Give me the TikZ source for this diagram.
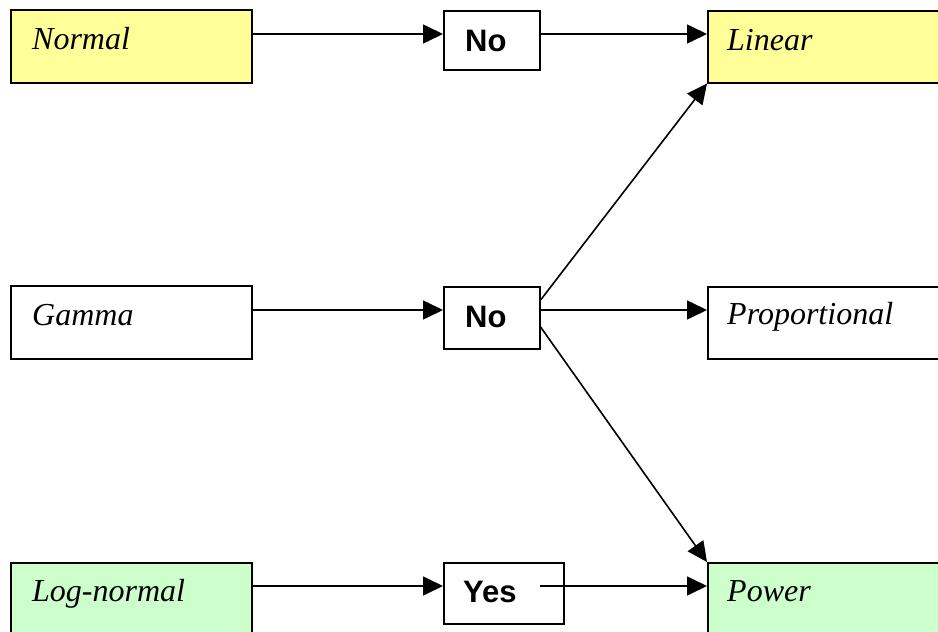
\documentclass[tikz,border=0pt]{standalone}
\usepackage{fontspec}
\setmainfont{Liberation Serif}
\newfontfamily\boldsans{Liberation Sans}
\usetikzlibrary{arrows.meta}
\definecolor{lyellow}{HTML}{FFFF99}
\definecolor{lgreen}{HTML}{CCFFCC}
\begin{document}
\begin{tikzpicture}[x=1pt,y=-1pt,
  box/.style={draw=black, line width=1.6pt, rectangle, inner sep=0pt, anchor=north west},
  distbox/.style={box, minimum width=241pt, minimum height=73pt},
  ansbox/.style={box, minimum height=60pt},
  modelbox/.style={box, minimum width=260pt, minimum height=72pt},
  dlabel/.style={anchor=base west, inner sep=0pt, font=\fontsize{32}{38}\selectfont\itshape},
  alabel/.style={anchor=base west, inner sep=0pt, font=\fontsize{31}{36}\selectfont\boldsans\bfseries},
  arr/.style={line width=1.6pt, -{Triangle[length=20pt,width=19pt]}}
]
\useasboundingbox (0,0) rectangle (938,632);
\clip (0,0) rectangle (938,632);
% distributions
\node[distbox, fill=lyellow] (normal) at (10,9) {};
\node[distbox] (gamma) at (10,285) {};
\node[distbox, fill=lgreen, minimum height=90pt] (lognormal) at (10,562) {};
% answers
\node[ansbox, minimum width=96pt, minimum height=59pt] (no1) at (443,10) {};
\node[ansbox, minimum width=96pt, minimum height=62pt] (no2) at (443,286) {};
\node[ansbox, minimum width=120pt, minimum height=61pt] (yes) at (443,562) {};
% models
\node[modelbox, fill=lyellow] (linear) at (707,10) {};
\node[modelbox] (prop) at (707,286) {};
\node[modelbox, fill=lgreen, minimum height=100pt] (power) at (707,562) {};
% labels
\node[dlabel] (tnormal) at ([shift={(22,40)}]normal.north west) {Normal};
\node[dlabel] (tgamma) at ([shift={(22,40)}]gamma.north west) {Gamma};
\node[dlabel] (tlognormal) at ([shift={(22,39)}]lognormal.north west) {Log-normal};
\node[alabel] (tno1) at ([shift={(22,41)}]no1.north west) {No};
\node[alabel] (tno2) at ([shift={(22,41)}]no2.north west) {No};
\node[alabel] (tyes) at ([shift={(20,40)}]yes.north west) {Yes};
\node[dlabel] (tlinear) at ([shift={(20,40)}]linear.north west) {Linear};
\node[dlabel] (tprop) at ([shift={(20,38)}]prop.north west) {Proportional};
\node[dlabel] (tpower) at ([shift={(20,39)}]power.north west) {Power};
% connectors
\draw[arr] ([shift={(0,25)}]normal.north east) -- ([shift={(0,24)}]no1.north west);
\draw[arr] ([shift={(0,24)}]no1.north east) -- ([shift={(0,24)}]linear.north west);
\draw[arr] ([shift={(0,25)}]gamma.north east) -- ([shift={(0,24)}]no2.north west);
\draw[arr] ([shift={(0,24)}]no2.north east) -- ([shift={(0,24)}]prop.north west);
\draw[arr] ([shift={(0,14)}]no2.north east) -- (linear.south west);
\draw[arr] ([shift={(0,41)}]no2.north east) -- (power.north west);
\draw[arr] ([shift={(0,24)}]lognormal.north east) -- ([shift={(0,24)}]yes.north west);
\draw[arr] ([shift={(-25,24)}]yes.north east) -- ([shift={(0,24)}]power.north west);
\end{tikzpicture}
\end{document}
